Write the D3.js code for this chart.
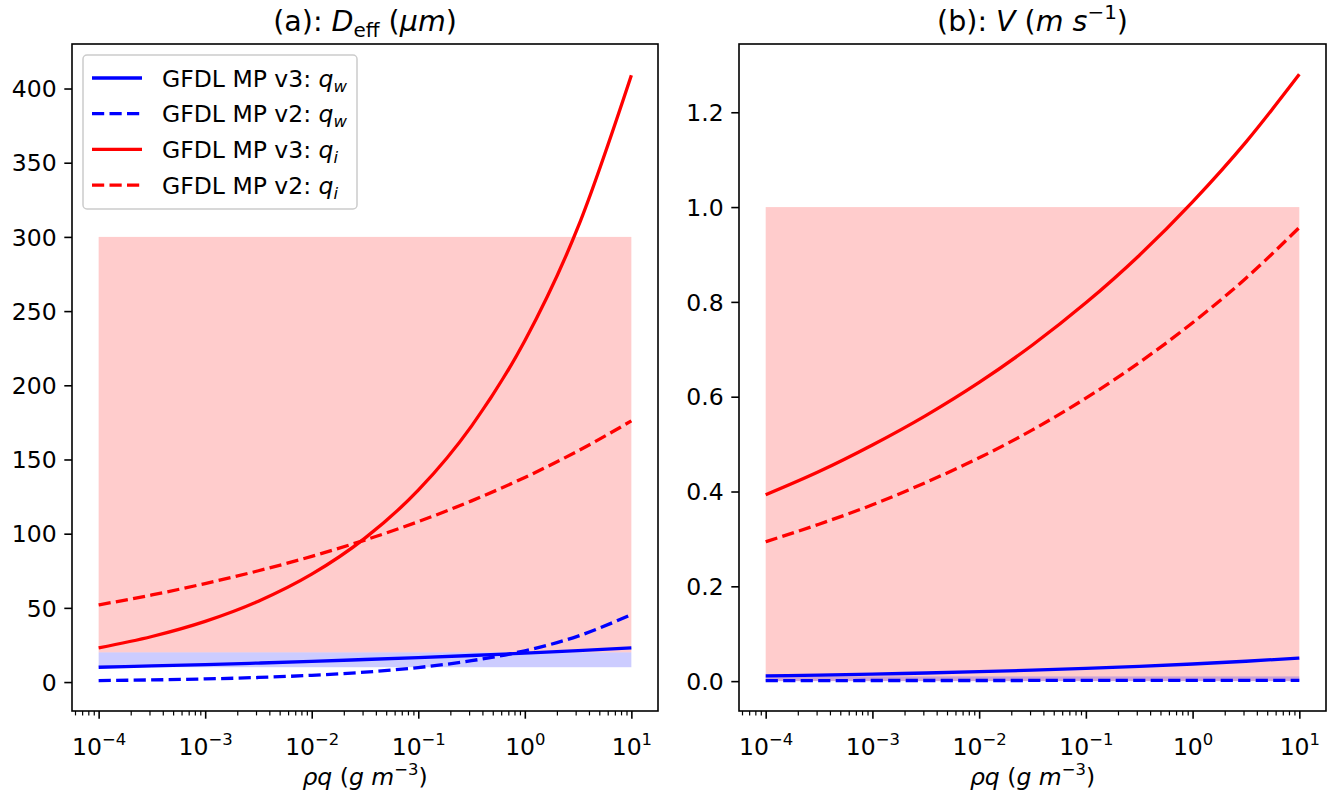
<!DOCTYPE html>
<html>
<head>
<meta charset="utf-8">
<script src="https://cdn.jsdelivr.net/npm/d3@7"></script>
<style>
  body { margin: 0; background: #fff; }
  svg text { font-family: "DejaVu Sans", sans-serif; fill: #000; white-space: pre; }
</style>
</head>
<body>
<svg id="chart" width="1332" height="790"></svg>
<script>
// values
var rhoQ = [1e-4, 3.16e-4, 1e-3, 3.16e-3, 1e-2, 3.16e-2, 1e-1, 3.16e-1, 1, 3.16, 10];

// (a) effective diameter, um
var deffV3W = [10.0, 10.9, 11.8, 12.8, 13.9, 15.2, 16.5, 17.9, 19.5, 21.2, 23.0];
var deffV2W = [0.98, 1.44, 2.11, 3.10, 4.55, 6.68, 9.80, 14.4, 21.1, 31.0, 45.5];
var deffV3I = [23.0, 30.7, 40.9, 54.5, 72.7, 97.0, 129.3, 172.5, 230, 306.7, 409];
var deffV2I = [52.0, 58.7, 66.4, 75.0, 84.7, 95.7, 108.1, 122.1, 137.9, 155.8, 176];

// (b) fall speed, m/s
var velV3W = [0.011, 0.0128, 0.0148, 0.0172, 0.0199, 0.0231, 0.0268, 0.0311, 0.0361, 0.0419, 0.0486];
var velV2W = [0.0012, 0.0012, 0.0013, 0.0013, 0.0013, 0.0014, 0.0014, 0.0014, 0.0015, 0.0015, 0.0016];
var velV3I = [0.393, 0.442, 0.498, 0.560, 0.630, 0.709, 0.798, 0.898, 1.011, 1.137, 1.280];
var velV2I = [0.294, 0.331, 0.372, 0.419, 0.471, 0.530, 0.597, 0.672, 0.756, 0.850, 0.957];

// shaded ranges
var bandX = [1e-4, 10];
var deffIceBand = [20, 300];
var deffWaterBand = [10, 20];
var velIceBand = [0, 1.0];
var velWaterBand = [0, 0.01];

var deffTicks = [0, 50, 100, 150, 200, 250, 300, 350, 400];
var velTicks = [0, 0.2, 0.4, 0.6, 0.8, 1.0, 1.2];
var xTickExp = [-4, -3, -2, -1, 0, 1];

var legendVersion = ["v3", "v2", "v3", "v2"];
var legendSub = ["w", "w", "i", "i"];

var FS = 23.5;      // tick / label / legend font size
var TFS = 28.5;     // title font size
var TOP = 44, BOTTOM = 711;

var svg = d3.select("#chart");

// text with italic / sub / sup pieces
function rich(sel, parts, size) {
  var shift = 0;
  parts.forEach(function(p) {
    var target = p.sub ? 0.22 * size : (p.sup ? -0.42 * size : 0);
    var ts = sel.append("tspan").text(p.t).attr("dy", target - shift);
    if (p.sub || p.sup) ts.attr("font-size", size * 0.7);
    if (p.it) ts.attr("font-style", "italic");
    shift = target;
  });
}

var panels = [
  {
    left: 72, right: 658, yDomain: [-19.5, 430], yTicks: deffTicks, yFmt: d3.format("d"),
    title: [{t: "(a): "}, {t: "D", it: true}, {t: "eff", sub: true}, {t: " ("}, {t: "μm", it: true}, {t: ")"}],
    bands: [{y: deffIceBand, color: "red"}, {y: deffWaterBand, color: "blue"}],
    series: [deffV3W, deffV2W, deffV3I, deffV2I],
    legend: true
  },
  {
    left: 739, right: 1326, yDomain: [-0.063, 1.344], yTicks: velTicks, yFmt: d3.format(".1f"),
    title: [{t: "(b): "}, {t: "V", it: true}, {t: " ("}, {t: "m s", it: true}, {t: "−1", sup: true}, {t: ")"}],
    bands: [{y: velIceBand, color: "red"}, {y: velWaterBand, color: "blue"}],
    series: [velV3W, velV2W, velV3I, velV2I],
    legend: false
  }
];

var seriesColor = ["blue", "blue", "red", "red"];
var seriesDash = [null, "12.2,5.3", null, "12.2,5.3"];

var minorTicks = [];
for (var k = -5; k <= 1; k++) {
  for (var m = 2; m <= 9; m++) {
    var v = m * Math.pow(10, k);
    if (v > Math.pow(10, -4.25) && v < Math.pow(10, 1.25)) minorTicks.push(v);
  }
}

panels.forEach(function(p) {
  var x = d3.scaleLog()
      .domain([Math.pow(10, -4.25), Math.pow(10, 1.25)])
      .range([p.left, p.right]);
  var y = d3.scaleLinear().domain(p.yDomain).range([BOTTOM, TOP]);

  var g = svg.append("g");

  // shaded ranges
  p.bands.forEach(function(b) {
    g.append("rect")
      .attr("x", x(bandX[0]))
      .attr("width", x(bandX[1]) - x(bandX[0]))
      .attr("y", y(b.y[1]))
      .attr("height", y(b.y[0]) - y(b.y[1]))
      .attr("fill", b.color)
      .attr("fill-opacity", 0.2);
  });

  // curves
  var line = d3.line()
      .x(function(d, i) { return x(rhoQ[i]); })
      .y(function(d) { return y(d); })
      .curve(d3.curveMonotoneX);

  p.series.forEach(function(s, i) {
    g.append("path")
      .datum(s)
      .attr("d", line)
      .attr("fill", "none")
      .attr("stroke", seriesColor[i])
      .attr("stroke-width", 3.3)
      .attr("stroke-dasharray", seriesDash[i]);
  });

  // y axis
  var ya = g.append("g")
      .attr("transform", "translate(" + p.left + ",0)")
      .call(d3.axisLeft(y).tickValues(p.yTicks).tickFormat(p.yFmt).tickSize(7.7).tickPadding(7.7));
  ya.select(".domain").remove();
  ya.selectAll(".tick line").attr("stroke", "#000").attr("stroke-width", 1.6);
  ya.selectAll(".tick text").attr("font-size", FS).attr("dy", "0.35em").attr("font-family", null);

  // x axis, minor ticks
  var xm = g.append("g")
      .attr("transform", "translate(0," + BOTTOM + ")")
      .call(d3.axisBottom(x).tickValues(minorTicks).tickFormat("").tickSize(4.4));
  xm.select(".domain").remove();
  xm.selectAll(".tick line").attr("stroke", "#000").attr("stroke-width", 1.2);

  // x axis, major ticks
  var xa = g.append("g")
      .attr("transform", "translate(0," + BOTTOM + ")")
      .call(d3.axisBottom(x).tickValues(xTickExp.map(function(e) { return Math.pow(10, e); }))
        .tickFormat("").tickSize(7.7));
  xa.select(".domain").remove();
  xa.selectAll(".tick line").attr("stroke", "#000").attr("stroke-width", 1.6);
  xa.selectAll(".tick").each(function(d, i) {
    var t = d3.select(this).append("text")
        .attr("y", 44)
        .attr("text-anchor", "middle")
        .attr("font-size", FS);
    rich(t, [{t: "10"}, {t: String(xTickExp[i]).replace("-", "−"), sup: true}], FS);
  });

  // frame
  g.append("rect")
    .attr("x", p.left).attr("y", TOP)
    .attr("width", p.right - p.left).attr("height", BOTTOM - TOP)
    .attr("fill", "none").attr("stroke", "#000").attr("stroke-width", 1.6);

  // title
  var tt = g.append("text")
      .attr("x", (p.left + p.right) / 2).attr("y", 31)
      .attr("text-anchor", "middle").attr("font-size", TFS);
  rich(tt, p.title, TFS);

  // x label
  var xl = g.append("text")
      .attr("x", (p.left + p.right) / 2).attr("y", 785)
      .attr("text-anchor", "middle").attr("font-size", FS);
  rich(xl, [{t: "ρq", it: true}, {t: " ("}, {t: "g m", it: true}, {t: "−3", sup: true}, {t: ")"}], FS);

  // legend
  if (p.legend) {
    var lg = g.append("g");
    lg.append("rect")
      .attr("x", 83).attr("y", 55).attr("width", 274).attr("height", 154).attr("rx", 4)
      .attr("fill", "#fff").attr("fill-opacity", 0.8)
      .attr("stroke", "#cccccc").attr("stroke-width", 1.5);
    legendVersion.forEach(function(ver, i) {
      var cy = 78 + i * 35.7;
      lg.append("line")
        .attr("x1", 92).attr("x2", 142).attr("y1", cy).attr("y2", cy)
        .attr("stroke", seriesColor[i]).attr("stroke-width", 3.3)
        .attr("stroke-dasharray", seriesDash[i]);
      var lt = lg.append("text")
          .attr("x", 162).attr("y", cy + 8.5).attr("font-size", FS);
      rich(lt, [{t: "GFDL MP " + ver + ": "}, {t: "q", it: true}, {t: legendSub[i], it: true, sub: true}], FS);
    });
  }
});
</script>
</body>
</html>
